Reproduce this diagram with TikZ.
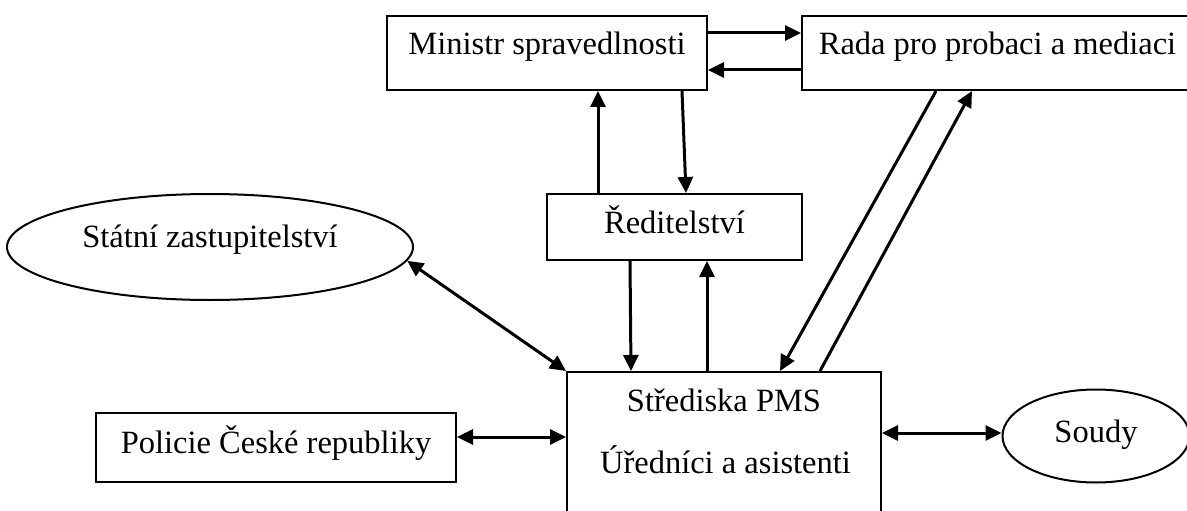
\documentclass[tikz,border=0pt]{standalone}
\usepackage{fontspec}
\setmainfont{Liberation Serif}
\usetikzlibrary{arrows.meta,shapes.geometric}
\begin{document}
\begin{tikzpicture}[x=1pt,y=-1pt,
  font=\fontsize{32.5}{38}\selectfont,
  box/.style={draw,line width=2pt,rectangle,inner xsep=0pt,inner ysep=0pt,anchor=base},
  oval/.style={draw,line width=2pt,ellipse,inner sep=0pt},
  txt/.style={inner sep=0pt,anchor=base},
  arr/.style={line width=3pt,-{Triangle[length=16pt,width=15pt]}},
  darr/.style={line width=3pt,{Triangle[length=16pt,width=15pt]}-{Triangle[length=16pt,width=15pt]}}]
\useasboundingbox (0,0) rectangle (1187,511);
\clip (0,0) rectangle (1187,511);
% boxes
\node[box,minimum width=320pt,text height=39pt,text depth=35pt] (mini) at (547,55) {Ministr spravedlnosti};
\node[box,minimum width=391pt,text height=39pt,text depth=35pt] (rada) at (997.5,55) {Rada pro probaci a mediaci};
\node[box,minimum width=255pt,text height=39pt,text depth=27pt] (redit) at (674.5,233) {Ředitelství};
\node[box,minimum width=360pt,text height=40pt,text depth=29pt] (pol) at (276,453) {Policie České republiky};
\node[draw,line width=2pt,rectangle,minimum width=314pt,minimum height=170pt,anchor=north] (pms) at (724,371) {};
\node[txt] (pmsA) at (724,411) {Střediska PMS};
\node[txt] (pmsB) at (725.5,473) {Úředníci a asistenti};
\node[oval,minimum width=406pt,minimum height=106pt,text height=0pt,text depth=0pt] (stat) at (210,247) {Státní zastupitelství};
\node[oval,minimum width=187pt,minimum height=93pt,text height=12pt,text depth=0pt] (soud) at (1096,436) {Soudy};
% connectors
\draw[arr] (mini.east |- 0,33) -- (rada.west |- 0,33);
\draw[arr] (rada.west |- 0,70) -- (mini.east |- 0,70);
\draw[arr] (redit.north -| 598,0) -- (mini.south -| 598,0);
\draw[arr] (mini.south -| 682,0) -- (redit.north -| 686,0);
\draw[arr] (redit.south -| 630,0) -- (pms.north -| 631,0);
\draw[arr] (pms.north -| 707,0) -- (redit.south -| 707,0);
\draw[arr] (rada.south -| 936,0) -- (pms.north -| 780,0);
\draw[arr] (pms.north -| 820,0) -- (rada.south -| 972,0);
\draw[darr] (stat.-4) -- (pms.north west);
\draw[darr] (pol.east |- 0,437) -- (pms.west |- 0,437);
\draw[darr] (pms.east |- 0,433) -- (soud.west |- 0,433);
\end{tikzpicture}
\end{document}
